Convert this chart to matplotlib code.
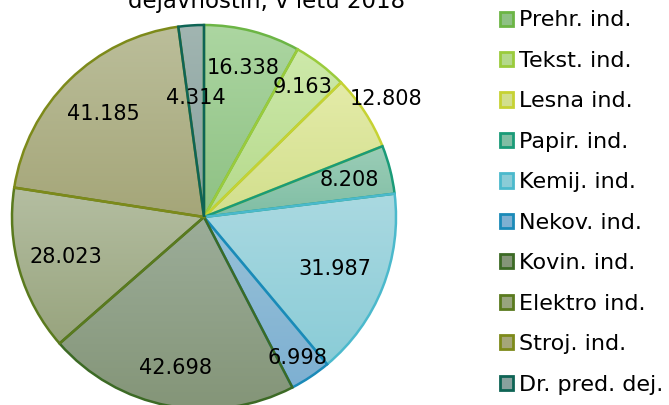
import numpy as np
import matplotlib
matplotlib.use("Agg")
import matplotlib.pyplot as plt
from matplotlib.patches import Patch
from matplotlib.colors import to_rgb

# data
labels = ["Prehr. ind.", "Tekst. ind.", "Lesna ind.", "Papir. ind.", "Kemij. ind.",
          "Nekov. ind.", "Kovin. ind.", "Elektro ind.", "Stroj. ind.", "Dr. pred. dej."]
values = [16.338, 9.163, 12.808, 8.208, 31.987, 6.998, 42.698, 28.023, 41.185, 4.314]
value_text = ["16.338", "9.163", "12.808", "8.208", "31.987",
              "6.998", "42.698", "28.023", "41.185", "4.314"]
title_line = "dejavnostih, v letu 2018"

# styles (top of gradient, bottom of gradient, edge)
fill_top = ["#acd6a1", "#cee9aa", "#e4eba8", "#9bcdb7", "#aad9e1",
            "#97c1d7", "#9cad99", "#b4bea1", "#bbbe9a", "#a1b5b1"]
fill_bot = ["#8ec184", "#b4d98b", "#d2df8d", "#80bea4", "#8accd7",
            "#7eb0d2", "#849578", "#98a47e", "#a5a679", "#88a19e"]
edges = ["#6cb545", "#9acb3c", "#c6d233", "#1a9b78", "#4bb9cc",
         "#1b8ab8", "#3c6a25", "#5a7a1e", "#7d8a1a", "#0e6455"]
label_r = [0.80, 0.85, 1.13, 0.78, 0.73, 0.88, 0.80, 0.75, 0.75, 0.62]

W, H = 669, 405
fig = plt.figure(figsize=(W / 100, H / 100), dpi=100)
cx, cy, R = 204, 217, 192
ax = fig.add_axes([(cx - R) / W, (H - cy - R) / H, 2 * R / W, 2 * R / H])

wedges, _ = ax.pie(values, startangle=90, counterclock=False, radius=1,
                   wedgeprops=dict(linewidth=1.8))

for i, w in enumerate(wedges):
    w.set_facecolor("none")
    w.set_edgecolor(edges[i])
    w.set_zorder(3)
    ext = w.get_path().get_extents()
    c0 = np.array(to_rgb(fill_top[i]))
    c1 = np.array(to_rgb(fill_bot[i]))
    t = np.linspace(0, 1, 64)[:, None]
    grad = (c0 * (1 - t) + c1 * t)[:, None, :]
    im = ax.imshow(grad, extent=[ext.x0, ext.x1, ext.y0, ext.y1], origin="upper",
                   aspect="auto", zorder=2, interpolation="bilinear")
    im.set_clip_path(w)

# value labels
theta0 = 90.0
total = sum(values)
for i, v in enumerate(values):
    span = v / total * 360
    mid = np.deg2rad(theta0 - span / 2)
    theta0 -= span
    ax.text(label_r[i] * np.cos(mid), label_r[i] * np.sin(mid), value_text[i],
            ha="center", va="center", fontsize=15, color="black", zorder=5)

ax.set_xlim(-1, 1)
ax.set_ylim(-1, 1)
ax.set_aspect("equal")
ax.axis("off")

handles = [Patch(facecolor=fill_bot[i], edgecolor=edges[i], linewidth=2)
           for i in range(len(labels))]
fig.legend(handles, labels, loc="upper left", bbox_to_anchor=(500 / W, 1 - 10.5 / H),
           frameon=False, fontsize=16, handlelength=0.6, handleheight=0.6,
           handletextpad=0.27, labelspacing=0.92, borderaxespad=0, borderpad=0)

fig.text(267 / W, 1 - 8 / H, title_line, ha="center", va="baseline", fontsize=16.5)

fig.savefig("out.png", dpi=100)
